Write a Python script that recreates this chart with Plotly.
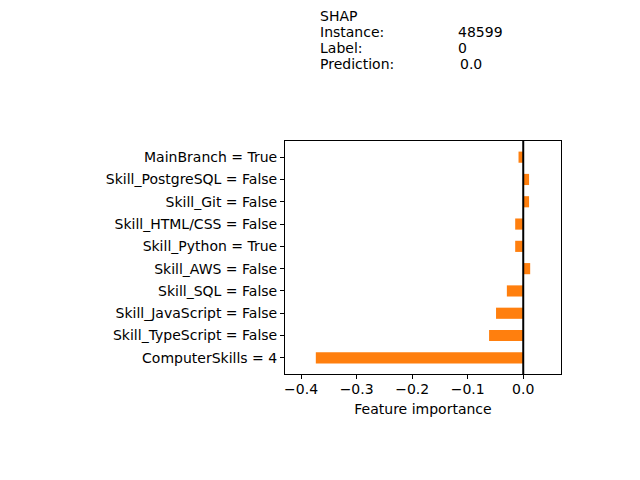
import plotly.graph_objects as go

features = ["MainBranch = True", "Skill_PostgreSQL = False", "Skill_Git = False",
            "Skill_HTML/CSS = False", "Skill_Python = True", "Skill_AWS = False",
            "Skill_SQL = False", "Skill_JavaScript = False", "Skill_TypeScript = False",
            "ComputerSkills = 4"]
importance = [-0.0085, 0.0105, 0.0105, -0.0145, -0.0145, 0.0125, -0.0295, -0.049, -0.0615, -0.3735]
x_ticks = [-0.4, -0.3, -0.2, -0.1, 0.0]

header_labels = ["Instance:", "Label:", "Prediction:"]
header_values = ["48599", "0", "0.0"]

FONT = "DejaVu Sans"
OFF = 8  # page body margin
L, R, T, B = 285, 561, 141, 374
W, H = R - L, B - T

pos = list(range(len(features)))[::-1]

fig = go.Figure()
fig.add_trace(go.Bar(
    x=importance, y=pos, orientation="h", width=0.5,
    marker=dict(color="#ff7f0e", line=dict(width=0)),
    hoverinfo="x",
))

fig.add_shape(type="line", xref="x", yref="paper", x0=0, x1=0, y0=0, y1=1,
              line=dict(color="black", width=2))

def px_x(p):
    return (p - L) / W

def px_y(p):
    return (B - p) / H

anns = [dict(text="SHAP", x=px_x(318), y=px_y(16))]
for i, (lab, val) in enumerate(zip(header_labels, header_values)):
    yy = px_y(32 + 16 * i)
    anns.append(dict(text=lab, x=px_x(318), y=yy))
    anns.append(dict(text=val, x=px_x(456 if val != "0.0" else 458), y=yy))
for a in anns:
    fig.add_annotation(xref="paper", yref="paper", xanchor="left", yanchor="middle",
                       showarrow=False, font=dict(family=FONT, size=14, color="black"), **a)

fig.update_layout(
    width=640, height=480,
    margin=dict(l=L - OFF, r=640 - R + OFF, t=T - OFF, b=480 - B + OFF, pad=0),
    plot_bgcolor="white", paper_bgcolor="white",
    showlegend=False,
    font=dict(family=FONT, size=14, color="black"),
    xaxis=dict(range=[-0.429, 0.068], tickvals=x_ticks,
               ticktext=["\u22120.4", "\u22120.3", "\u22120.2", "\u22120.1", "0.0"],
               ticks="outside", ticklen=4, tickcolor="black", showgrid=False, zeroline=False,
               ticklabelstandoff=-2,
               showline=True, linecolor="black", linewidth=1, mirror=True,
               title=dict(text="Feature importance", font=dict(family=FONT, size=14), standoff=8)),
    yaxis=dict(range=[-0.725, 9.725], tickvals=pos, ticktext=features,
               ticks="outside", ticklen=4, tickcolor="black", showgrid=False, zeroline=False,
               showline=True, linecolor="black", linewidth=1, mirror=True),
)

fig.write_html("out.html")
